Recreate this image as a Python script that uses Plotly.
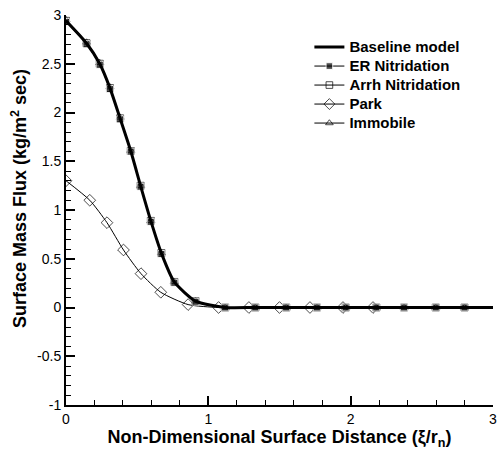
import plotly.graph_objects as go

# Surface distance stations (xi / r_n) where markers are drawn
x_main = [0.0, 0.144, 0.237, 0.309, 0.38, 0.455, 0.524, 0.596, 0.67, 0.761,
          0.91, 1.118, 1.33, 1.547, 1.763, 1.965, 2.18, 2.375, 2.598, 2.80, 3.0]
# Surface mass flux (kg/m^2 sec)
y_baseline = [2.94, 2.71, 2.50, 2.25, 1.94, 1.605, 1.248, 0.888, 0.558, 0.262,
              0.065, 0.0, 0.0, 0.0, 0.0, 0.0, 0.0, 0.0, 0.0, 0.0, 0.0]
y_er = [2.93, 2.70, 2.49, 2.24, 1.93, 1.60, 1.24, 0.88, 0.55, 0.255,
        0.06, 0.0, 0.0, 0.0, 0.0, 0.0, 0.0, 0.0, 0.0, 0.0, 0.0]
y_arrh = [2.94, 2.71, 2.50, 2.25, 1.94, 1.605, 1.248, 0.888, 0.558, 0.262,
          0.065, 0.0, 0.0, 0.0, 0.0, 0.0, 0.0, 0.0, 0.0, 0.0, 0.0]
y_immobile = [2.95, 2.72, 2.51, 2.26, 1.95, 1.61, 1.25, 0.89, 0.56, 0.265,
              0.066, 0.0, 0.0, 0.0, 0.0, 0.0, 0.0, 0.0, 0.0, 0.0, 0.0]

x_park = [0.0, 0.167, 0.288, 0.404, 0.527, 0.666, 0.858, 1.072, 1.285, 1.50,
          1.714, 1.946, 2.157, 3.0]
y_park = [1.30, 1.10, 0.87, 0.59, 0.347, 0.156, 0.03, 0.0, 0.0, 0.0,
          0.0, 0.0, 0.0, 0.0]

x_ticks = [0, 1, 2, 3]
y_ticks = [-1, -0.5, 0, 0.5, 1, 1.5, 2, 2.5, 3]
y_tick_text = ["-1", "-0.5", "0", "0.5", "1", "1.5", "2", "2.5", "3"]

FONT = "Liberation Sans, Arial, sans-serif"


def sizes(n, s):
    # last station only carries the line to the axis end, no marker
    return [s] * (n - 1) + [0]


def entry(label):
    # legend rows stay tight while the label itself is drawn larger
    return f'<span style="font-size:15px"><b>{label}</b></span>'


fig = go.Figure()

fig.add_trace(go.Scatter(
    x=x_main, y=y_arrh, name=entry("Arrh Nitridation"), mode="lines+markers",
    line=dict(color="black", width=1, shape="spline", smoothing=0.6),
    marker=dict(symbol="square-open", size=sizes(len(x_main), 7), color="black",
                line=dict(width=1)),
    legendrank=3,
))
fig.add_trace(go.Scatter(
    x=x_main, y=y_immobile, name=entry("Immobile"), mode="lines+markers",
    line=dict(color="black", width=1, shape="spline", smoothing=0.6),
    marker=dict(symbol="triangle-up-open", size=sizes(len(x_main), 7), color="black",
                line=dict(width=1)),
    legendrank=5,
))
fig.add_trace(go.Scatter(
    x=x_park, y=y_park, name=entry("Park"), mode="lines+markers",
    line=dict(color="black", width=1, shape="spline", smoothing=0.6),
    marker=dict(symbol="diamond-open", size=sizes(len(x_park), 9), color="black",
                line=dict(width=1)),
    legendrank=4,
))
fig.add_trace(go.Scatter(
    x=x_main, y=y_er, name=entry("ER Nitridation"), mode="lines+markers",
    line=dict(color="black", width=1, shape="spline", smoothing=0.6),
    marker=dict(symbol="square", size=sizes(len(x_main), 7), color="black"),
    legendrank=2,
))
fig.add_trace(go.Scatter(
    x=x_main, y=y_baseline, name=entry("Baseline model"), mode="lines",
    line=dict(color="black", width=3, shape="spline", smoothing=0.6),
    legendrank=1,
))

axis_common = dict(
    showgrid=False, zeroline=False, showline=True, linecolor="black", linewidth=2,
    ticks="inside", ticklen=9, tickwidth=1.5, tickcolor="black",
    tickfont=dict(family=FONT, size=14, color="black"),
    minor=dict(ticks="inside", ticklen=5, tickwidth=1, tickcolor="black"),
)

fig.update_layout(
    width=502, height=454,
    margin=dict(l=66, r=5, t=15, b=49),
    paper_bgcolor="white", plot_bgcolor="white",
    font=dict(family=FONT, color="black"),
    xaxis=dict(
        range=[0, 3], tickvals=x_ticks, **axis_common,
        title=dict(text="<b>Non-Dimensional Surface Distance (ξ/r<sub>n</sub>)</b>",
                   font=dict(family=FONT, size=18, color="black"), standoff=3),
    ),
    yaxis=dict(
        range=[-1, 3], tickvals=y_ticks, ticktext=y_tick_text, **axis_common,
    ),
    legend=dict(
        x=0.57, y=0.955, xanchor="left", yanchor="top",
        bgcolor="rgba(0,0,0,0)", borderwidth=0,
        font=dict(family=FONT, size=11.8, color="black"),
        tracegroupgap=0, itemwidth=30,
    ),
    annotations=[dict(
        text="<b>Surface Mass Flux (kg/m<sup>2</sup> sec)</b>",
        textangle=-90, xref="paper", yref="paper", x=-0.11, y=0.528,
        xanchor="center", yanchor="middle", showarrow=False,
        font=dict(family=FONT, size=18, color="black"),
    )],
)
fig.update_xaxes(minor_dtick=0.2)
fig.update_yaxes(minor_dtick=0.1)

fig.write_html("out.html")
